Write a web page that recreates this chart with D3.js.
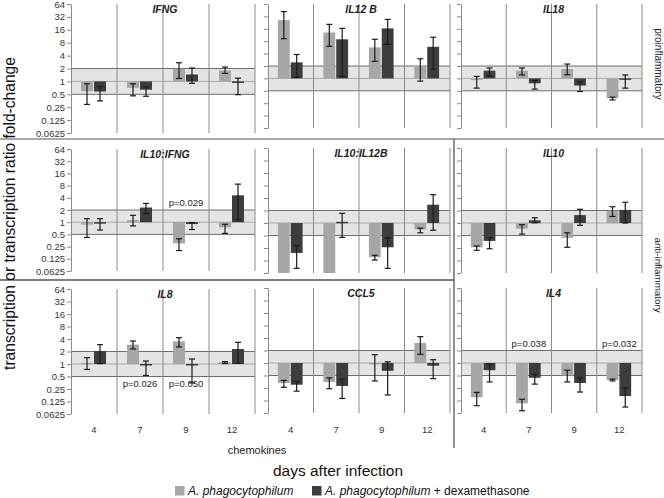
<!DOCTYPE html>
<html>
<head>
<meta charset="utf-8">
<script src="https://cdn.jsdelivr.net/npm/d3@7"></script>
<style>
  html, body { margin: 0; padding: 0; background: #ffffff; }
  svg { display: block; font-family: "Liberation Sans", Arial, sans-serif; }
</style>
</head>
<body>
<svg id="chart" width="664" height="498"></svg>
<script>
// ---------------- DATA ----------------
const days = ["4", "7", "9", "12"];
const panelNames = ["IFNG", "IL12 B", "IL18", "IL10:IFNG", "IL10:IL12B", "IL10", "IL8", "CCL5", "IL4"];
const yTickValues = [64, 32, 16, 8, 4, 2, 1, 0.5, 0.25, 0.125, 0.0625];
const seriesNames = ["A. phagocytophilum", "A. phagocytophilum + dexamethasone"];

// A. phagocytophilum (light bars)
const apValues = [
  [0.59, 0.71, 1.97, 1.8],
  [26, 13, 5.66, 2.0],
  [0.91, 1.54, 1.69, 0.33],
  [0.87, 1.13, 0.30, 0.75],
  [0.04, 0.04, 0.15, 0.70],
  [0.26, 0.73, 0.44, 1.98],
  [1.07, 2.92, 3.5, 1.12],
  [0.33, 0.35, 0.95, 3.03],
  [0.15, 0.107, 0.5, 0.39]
];
const apErrLow = [
  [0.29, 0.46, 1.17, 1.54],
  [9.2, 6, 2.6, 0.86],
  [0.58, 1.21, 1.23, 0.30],
  [0.42, 0.81, 0.20, 0.53],
  [null, null, 0.128, 0.58],
  [0.22, 0.54, 0.26, 1.44],
  [0.74, 2.3, 2.57, 1.03],
  [0.26, 0.24, 0.37, 1.62],
  [0.094, 0.071, 0.35, 0.37]
];
const apErrHigh = [
  [0.88, 0.88, 2.73, 2.16],
  [42, 20.5, 8.9, 3.0],
  [1.12, 1.79, 2.23, 0.35],
  [1.22, 1.48, 0.39, 0.89],
  [null, null, 0.167, 0.75],
  [0.28, 0.91, 0.58, 2.47],
  [1.42, 3.58, 4.3, 1.14],
  [0.38, 0.44, 1.58, 4.3],
  [0.196, 0.134, 0.67, 0.41]
];
// A. phagocytophilum + dexamethasone (dark bars)
const dexValues = [
  [0.58, 0.64, 1.45, 0.92],
  [2.45, 8.9, 16.4, 5.85],
  [1.54, 0.76, 0.67, 0.96],
  [0.98, 2.3, 0.9, 4.6],
  [0.19, 1.07, 0.26, 2.76],
  [0.37, 1.16, 1.55, 2.07],
  [2.06, 0.93, 0.95, 2.3],
  [0.30, 0.28, 0.65, 0.86],
  [0.67, 0.44, 0.33, 0.16]
];
const dexErrLow = [
  [0.35, 0.45, 0.9, 0.49],
  [1.06, 1.12, 6.7, 1.68],
  [1.16, 0.55, 0.48, 0.58],
  [0.64, 1.64, 0.66, 1.13],
  [0.081, 0.45, 0.081, 0.67],
  [0.24, 1.01, 0.88, 1.0],
  [1.02, 0.53, 0.35, 1.04],
  [0.21, 0.14, 0.17, 0.42],
  [0.35, 0.31, 0.2, 0.087]
];
const dexErrHigh = [
  [0.76, 0.75, 2.05, 1.19],
  [3.8, 16.4, 27, 10],
  [1.79, 0.89, 0.83, 1.21],
  [1.22, 2.9, 0.97, 8.7],
  [0.29, 1.71, 0.44, 4.8],
  [0.44, 1.34, 2.14, 3.16],
  [2.92, 1.18, 1.32, 3.33],
  [0.36, 0.41, 1.07, 1.2],
  [0.95, 0.53, 0.44, 0.25]
];
// significance annotations: panel index, day, text, side of band
const pPanels = [3, 6, 6, 8, 8];
const pDays = ["9", "7", "9", "7", "12"];
const pTexts = ["p=0.029", "p=0.026", "p=0.050", "p=0.038", "p=0.032"];
const pSides = ["above", "below", "below", "above", "above"];

// ---------------- LAYOUT ----------------
const colRanges = [[71, 255], [268, 450], [461, 642]];
const panelYRanges = [[4, 133], [4, 128], [4, 128],
                      [149, 271], [148, 273], [148, 273],
                      [289, 414], [288, 413], [288, 413]];
const lightColor = "#a6a6a6", darkColor = "#3d3d3d";

const svg = d3.select("#chart");
svg.append("rect").attr("width", 664).attr("height", 498).attr("fill", "#fff");

// group separators
svg.append("line").attr("x1", 0).attr("x2", 664).attr("y1", 139).attr("y2", 139)
  .attr("stroke", "#8c8c8c").attr("stroke-width", 1.5);
svg.append("line").attr("x1", 0).attr("x2", 454).attr("y1", 280).attr("y2", 280)
  .attr("stroke", "#555").attr("stroke-width", 1.3);
svg.append("line").attr("x1", 454).attr("x2", 454).attr("y1", 139).attr("y2", 448)
  .attr("stroke", "#555").attr("stroke-width", 1.3);

panelNames.forEach((name, pi) => {
  const row = Math.floor(pi / 3), col = pi % 3;
  const [x0, x1] = colRanges[col];
  const [yT, yB] = panelYRanges[pi];
  const y = d3.scaleLog().base(2).domain([0.0625, 64]).range([yB, yT]).clamp(true);
  const x = d3.scaleBand().domain(days).range([x0, x1]).paddingInner(0).paddingOuter(0);
  const sub = d3.scaleBand().domain([0, 1]).range([0, x.bandwidth()]).paddingInner(0).paddingOuter(0.77);
  const g = svg.append("g");

  // reference band 0.5 - 2
  g.append("rect").attr("x", x0).attr("width", x1 - x0)
    .attr("y", y(2)).attr("height", y(0.5) - y(2)).attr("fill", "#e4e4e4");
  g.append("line").attr("x1", x0).attr("x2", x1).attr("y1", y(2)).attr("y2", y(2))
    .attr("stroke", "#6e6e6e").attr("stroke-width", 1);
  g.append("line").attr("x1", x0).attr("x2", x1).attr("y1", y(0.5)).attr("y2", y(0.5))
    .attr("stroke", "#6e6e6e").attr("stroke-width", 1);
  g.append("line").attr("x1", x0).attr("x2", x1).attr("y1", y(1)).attr("y2", y(1))
    .attr("stroke", "#a8a8a8").attr("stroke-width", 1);

  // category separators + right border
  days.slice(1).forEach(d => {
    g.append("line").attr("x1", x(d)).attr("x2", x(d)).attr("y1", yT).attr("y2", yB)
      .attr("stroke", "#8a8a8a").attr("stroke-width", 1);
  });
  g.append("line").attr("x1", x1).attr("x2", x1).attr("y1", yT).attr("y2", yB)
    .attr("stroke", "#8a8a8a").attr("stroke-width", 1);

  // y axis
  const axis = d3.axisLeft(y).tickValues(yTickValues).tickSize(4).tickSizeOuter(0)
    .tickFormat(col === 0 ? (d => String(d)) : () => "");
  const ag = g.append("g").attr("transform", `translate(${x0},0)`).call(axis);
  ag.select(".domain").attr("stroke", "#8a8a8a");
  ag.selectAll(".tick line").attr("stroke", "#8a8a8a");
  ag.selectAll(".tick text").attr("fill", "#333").attr("font-size", "9.5px")
    .attr("font-family", "'Liberation Sans', Arial, sans-serif").attr("x", -6);

  // bars
  const series = [
    { vals: apValues[pi], lo: apErrLow[pi], hi: apErrHigh[pi], color: lightColor, k: 0 },
    { vals: dexValues[pi], lo: dexErrLow[pi], hi: dexErrHigh[pi], color: darkColor, k: 1 }
  ];
  series.forEach(s => {
    days.forEach((d, di) => {
      const v = s.vals[di];
      const bx = x(d) + sub(s.k);
      const bw = sub.bandwidth() - 1;
      const yv = y(v), y1 = y(1);
      g.append("rect").attr("x", bx).attr("width", bw)
        .attr("y", Math.min(yv, y1)).attr("height", Math.max(Math.abs(yv - y1), 1.5))
        .attr("fill", s.color);
    });
  });
  series.forEach(s => {
    days.forEach((d, di) => {
      const lo = s.lo[di], hi = s.hi[di];
      if (lo == null || hi == null) return;
      const cx = x(d) + sub(s.k) + (sub.bandwidth() - 1) / 2;
      const ylo = y(lo), yhi = y(hi);
      g.append("line").attr("x1", cx).attr("x2", cx).attr("y1", ylo).attr("y2", yhi)
        .attr("stroke", "#1a1a1a").attr("stroke-width", 1.2);
      [ylo, yhi].forEach(yy => {
        g.append("line").attr("x1", cx - 3).attr("x2", cx + 3).attr("y1", yy).attr("y2", yy)
          .attr("stroke", "#1a1a1a").attr("stroke-width", 1.2);
      });
    });
  });

  // title
  g.append("text").attr("x", (x0 + x1) / 2 + 2).attr("y", yT + 8.5)
    .attr("text-anchor", "middle").attr("font-size", "10.5px")
    .attr("font-weight", "bold").attr("font-style", "italic").attr("fill", "#222")
    .text(name);

  // p-values
  pPanels.forEach((pp, j) => {
    if (pp !== pi) return;
    const cx = x(pDays[j]) + x.bandwidth() / 2;
    const yy = pSides[j] === "above" ? y(2) - 4 : y(0.5) + 10;
    g.append("text").attr("x", cx).attr("y", yy).attr("text-anchor", "middle")
      .attr("font-size", "9.5px").attr("fill", "#222").text(pTexts[j]);
  });

  // x tick labels below bottom row
  if (row === 2) {
    days.forEach(d => {
      g.append("text").attr("x", x(d) + x.bandwidth() / 2).attr("y", 432.5)
        .attr("text-anchor", "middle").attr("font-size", "9.5px").attr("fill", "#333").text(d);
    });
  }
});

// texts
svg.append("text").attr("x", 257).attr("y", 454).attr("text-anchor", "middle")
  .attr("font-size", "11px").attr("fill", "#222").text("chemokines");
svg.append("text").attr("x", 338).attr("y", 476).attr("text-anchor", "middle")
  .attr("font-size", "15.5px").attr("fill", "#111").text("days after infection");
svg.append("text").attr("transform", "translate(14.5,213.5) rotate(-90)")
  .attr("text-anchor", "middle").attr("font-size", "15.6px").attr("fill", "#111")
  .text("transcription or transcription ratio fold-change");
svg.append("text").attr("transform", "translate(654.5,64) rotate(90)")
  .attr("text-anchor", "middle").attr("font-size", "10px").attr("fill", "#222")
  .text("proinflammatory");
svg.append("text").attr("transform", "translate(654.5,275) rotate(90)")
  .attr("text-anchor", "middle").attr("font-size", "9.8px").attr("fill", "#222")
  .text("anti-inflammatory");

// legend
const leg = svg.append("g");
leg.append("rect").attr("x", 175).attr("y", 486).attr("width", 9.5).attr("height", 9.5).attr("fill", lightColor);
leg.append("text").attr("x", 188).attr("y", 495).attr("font-size", "12px").attr("font-style", "italic")
  .attr("fill", "#111").text(seriesNames[0]);
leg.append("rect").attr("x", 312).attr("y", 486).attr("width", 9.5).attr("height", 9.5).attr("fill", darkColor);
const t2 = leg.append("text").attr("x", 325).attr("y", 495).attr("font-size", "12px").attr("fill", "#111");
t2.append("tspan").attr("font-style", "italic").text("A. phagocytophilum");
t2.append("tspan").text(" + dexamethasone");
</script>
</body>
</html>
